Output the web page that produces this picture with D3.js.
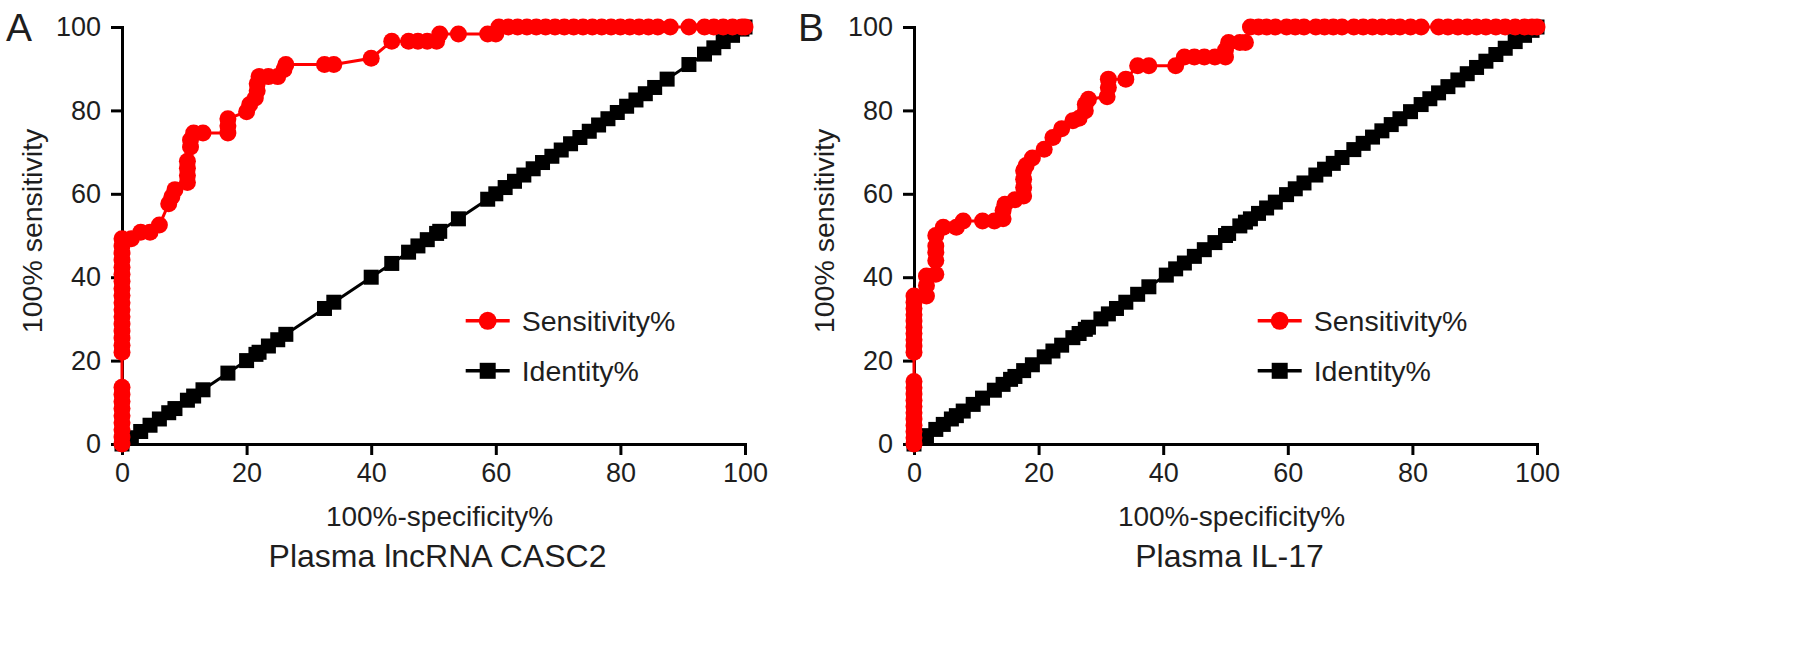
<!DOCTYPE html>
<html>
<head>
<meta charset="utf-8">
<script src="https://cdn.jsdelivr.net/npm/d3@7"></script>
<style>
  html, body { margin: 0; padding: 0; background: #fff; }
  svg { display: block; font-family: "Liberation Sans", Arial, Helvetica, sans-serif; }
</style>
</head>
<body>
<svg id="chart" width="1795" height="660"></svg>
<script>
// ---------- data ----------
const tickValues = [0, 20, 40, 60, 80, 100];
const legendLabels = ["Sensitivity%", "Identity%"];
const panelLetters = ["A", "B"];
const panelCaptions = ["Plasma lncRNA CASC2", "Plasma IL-17"];
const xTitle = "100%-specificity%";
const yTitle = "100% sensitivity";

// Panel A: 100%-specificity% (x) and sensitivity% (y)
const specA = [0,0,0,0,0,0,0,0,0,0,0,0,0,0,0,0,0,0,0,0,0,0,0,0,0,0,
  1.5,3,4.5,6,7.5,8,8.5,10.5,10.5,10.5,10.5,11,11,11.5,13,17,17,17,20,20.5,21.4,21.7,21.7,22,23.5,25,26,26.3,
  32.5,34,40,43.3,46,47.5,49,50.5,51,54,58.7,60,60.5,62,63.5,65,66.5,68,69.5,71,72.5,74,75.5,77,78.5,80,81.5,83,84.5,86,88,91,93.5,95,96.5,98,99.5,100];
const sensA = [0,1.7,3.4,5.1,6.8,8.5,10.2,11.9,13.6,22,23.7,25.4,27.1,28.8,30.5,32.2,33.9,35.6,37.3,39,40.7,42.4,44.1,45.8,47.5,49.2,
  49.2,50.8,50.8,52.5,57.6,59.3,61,62.7,64.4,66.1,67.8,71.2,72.9,74.6,74.6,74.6,76.3,78,79.7,81.4,83,84.7,86.4,88.1,88.1,88.1,89.8,91,
  91,91,92.5,96.6,96.6,96.6,96.6,96.6,98.3,98.3,98.3,98.3,100,100,100,100,100,100,100,100,100,100,100,100,100,100,100,100,100,100,100,100,100,100,100,100,100,100];
const identA = [0,1.5,3,4.5,6,7.5,8.5,10.5,11.5,13,17,20,21.5,22,23.5,25,26.3,32.5,34,40,43.3,46,47.5,49,50.5,51,54,58.7,60,
  61.5,63,64.5,66,67.5,69,70.5,72,73.5,75,76.5,78,79.5,81,82.5,84,85.5,87.5,91,93.5,95,96.5,98,99.5,100];

// Panel B
const specB = [0,0,0,0,0,0,0,0,0,0,0,0,0,0,0,0,0,0,0,0,0,
  2,2,2,3.5,3.5,3.5,3.5,3.5,4.7,6.8,7.9,11,12.9,14.3,14.3,14.6,16.2,17.6,17.6,17.6,17.6,18,19,20.9,22.3,23.7,25.5,26.5,27.5,27.5,28,
  31,31.2,31.2,34,35.9,37.7,42,43.4,45,46.6,48.3,50,50,50.5,52.3,53.2,
  54,55.3,56.6,58,59.8,61.2,62.6,64.5,65.9,67.3,68.7,70.6,72.1,73.6,75.1,76.6,78,79.7,81.4,84.2,85.7,87.3,88.8,90.3,91.8,93.4,94.9,96.5,98,99.2,100];
const sensB = [0,1.5,3,4.5,6,7.5,9,10.5,12,13.5,15,22,23.5,25,26.5,28,29.5,31,32.5,34,35.5,
  35.5,38,40.3,40.7,44,46,47.5,50,52,52,53.5,53.5,53.5,54,56,57.5,58.6,59.5,61.5,63.5,65.5,66.8,68.6,70.7,73.5,75.6,77.5,78.1,79.9,81.5,82.7,
  83.3,85.5,87.5,87.5,90.7,90.7,90.7,92.8,92.8,92.8,92.8,92.8,94.5,96.3,96.3,96.3,
  100,100,100,100,100,100,100,100,100,100,100,100,100,100,100,100,100,100,100,100,100,100,100,100,100,100,100,100,100,100,100];
const identB = [0,1.5,2,3.5,4.7,6,6.8,7.9,9.5,11,12.9,14.3,15.5,16.2,17.6,19,20.9,22.3,23.7,25.5,26.5,27.5,28,30,31.2,32.5,34,35.9,37.7,
  40.5,42,43.4,45,46.6,48.3,50,50.5,52.3,53.2,54,55.3,56.6,58,59.8,61.2,62.6,64.5,65.9,67.3,68.7,70.6,72.1,73.6,75.1,76.6,78,79.7,81.4,
  82.8,84.2,85.7,87.3,88.8,90.3,91.8,93.4,94.9,96.5,98,99.2,100];

// ---------- drawing ----------
const RED = "#ff0000", BLACK = "#000000", TEXT = "#1e1e1e";
const svg = d3.select("#chart");

const panels = [
  { left: 122, right: 745, spec: specA, sens: sensA, ident: identA },
  { left: 914, right: 1537, spec: specB, sens: sensB, ident: identB }
];
const yTop = 27, yBottom = 444;

panels.forEach((p, i) => {
  const x = d3.scaleLinear().domain([0, 100]).range([p.left, p.right]);
  const y = d3.scaleLinear().domain([0, 100]).range([yBottom, yTop]);
  const g = svg.append("g");

  // axes
  const xAxis = d3.axisBottom(x).tickValues(tickValues).tickSize(11).tickSizeOuter(0).tickPadding(8);
  const yAxis = d3.axisLeft(y).tickValues(tickValues).tickSize(11).tickSizeOuter(0).tickPadding(10);
  const gx = g.append("g").attr("transform", `translate(0,${yBottom})`).call(xAxis);
  const gy = g.append("g").attr("transform", `translate(${p.left},0)`).call(yAxis);
  [gx, gy].forEach(a => {
    a.select(".domain").attr("stroke", BLACK).attr("stroke-width", 3).attr("stroke-linecap", "square");
    a.selectAll(".tick line").attr("stroke", BLACK).attr("stroke-width", 3);
    a.selectAll(".tick text").attr("fill", TEXT).style("font-size", "27px")
      .style("font-family", '"Liberation Sans", Arial, Helvetica, sans-serif');
  });

  // identity series
  const identPts = p.ident.map(v => [v, v]);
  const line = d3.line().x(d => x(d[0])).y(d => y(d[1]));
  g.append("path").datum(identPts).attr("d", line)
    .attr("fill", "none").attr("stroke", BLACK).attr("stroke-width", 3);
  const sq = 15;
  g.selectAll("rect.ident").data(identPts).join("rect").attr("class", "ident")
    .attr("x", d => x(d[0]) - sq / 2).attr("y", d => y(d[1]) - sq / 2)
    .attr("width", sq).attr("height", sq).attr("fill", BLACK);

  // sensitivity series
  const sensPts = p.spec.map((v, k) => [v, p.sens[k]]);
  g.append("path").datum(sensPts).attr("d", line)
    .attr("fill", "none").attr("stroke", RED).attr("stroke-width", 3);
  g.selectAll("circle.sens").data(sensPts).join("circle").attr("class", "sens")
    .attr("cx", d => x(d[0])).attr("cy", d => y(d[1])).attr("r", 8.5).attr("fill", RED);

  // legend
  const lx = x(58.7), ly1 = 320.8, ly2 = 370.8;
  const leg = g.append("g");
  leg.append("line").attr("x1", lx - 22).attr("x2", lx + 22).attr("y1", ly1).attr("y2", ly1)
    .attr("stroke", RED).attr("stroke-width", 3.5);
  leg.append("circle").attr("cx", lx).attr("cy", ly1).attr("r", 9).attr("fill", RED);
  leg.append("text").attr("x", lx + 34).attr("y", ly1).attr("dy", "0.36em")
    .attr("fill", TEXT).style("font-size", "28.5px").text(legendLabels[0]);
  leg.append("line").attr("x1", lx - 22).attr("x2", lx + 22).attr("y1", ly2).attr("y2", ly2)
    .attr("stroke", BLACK).attr("stroke-width", 3.5);
  leg.append("rect").attr("x", lx - 8).attr("y", ly2 - 8).attr("width", 16).attr("height", 16).attr("fill", BLACK);
  leg.append("text").attr("x", lx + 34).attr("y", ly2).attr("dy", "0.36em")
    .attr("fill", TEXT).style("font-size", "28.5px").text(legendLabels[1]);

  // titles
  const cx = (p.left + p.right) / 2;
  g.append("text").attr("x", cx + 6).attr("y", 526).attr("text-anchor", "middle")
    .attr("fill", TEXT).style("font-size", "28px").text(xTitle);
  g.append("text").attr("x", cx + 4).attr("y", 567).attr("text-anchor", "middle")
    .attr("fill", TEXT).style("font-size", "32px").text(panelCaptions[i]);
  g.append("text")
    .attr("transform", `translate(${p.left - 80},231) rotate(-90)`)
    .attr("text-anchor", "middle").attr("fill", TEXT).style("font-size", "28.5px").text(yTitle);

  // panel letter
  g.append("text").attr("x", p.left - 116).attr("y", 41)
    .attr("fill", TEXT).style("font-size", "39px").text(panelLetters[i]);
});
</script>
</body>
</html>
